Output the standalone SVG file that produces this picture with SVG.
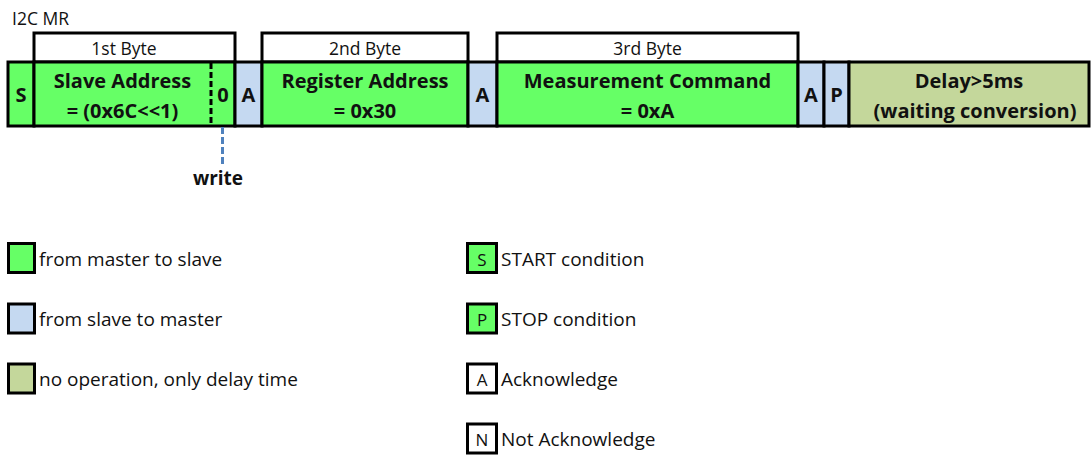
<svg xmlns="http://www.w3.org/2000/svg" width="1092" height="455" viewBox="0 0 1092 455">
<style>
text{font-family:"Open Sans",Lato,"Liberation Sans",sans-serif;fill:#111}
.box{stroke:#000;stroke-width:3}
.g{fill:#66ff66}.b{fill:#c5d9f1}.o{fill:#c4d79b}.w{fill:#fff}
.hb{font-size:17.5px;text-anchor:middle}
.bd{font-size:20px;font-weight:bold;text-anchor:middle}
.lg{font-size:19px}
.lc{font-size:17px;text-anchor:middle}
</style>
<rect width="1092" height="455" fill="#fff"/>
<text x="12" y="25" style="font-size:17.5px">I2C MR</text>
<g id="headers">
<rect class="box w" x="34" y="33" width="201" height="29"/>
<text class="hb" x="124" y="55">1st Byte</text>
<rect class="box w" x="262" y="33" width="206" height="29"/>
<text class="hb" x="365" y="55">2nd Byte</text>
<rect class="box w" x="497" y="33" width="301" height="29"/>
<text class="hb" x="647.5" y="55">3rd Byte</text>
</g>
<g id="node-S"><rect class="box g" x="8" y="62" width="26" height="64"/><text class="bd" x="21" y="102">S</text></g>
<g id="node-slave"><rect class="box g" x="34" y="62" width="201" height="64"/>
<text class="bd" x="122.5" y="88">Slave Address</text><text class="bd" x="122.5" y="118">= (0x6C&lt;&lt;1)</text>
<line x1="211" y1="63" x2="211" y2="125" stroke="#000" stroke-width="3" stroke-dasharray="6,3" fill="none"/>
<text class="bd" x="223" y="102">0</text></g>
<g id="node-A1"><rect class="box b" x="235" y="62" width="27" height="64"/><text class="bd" x="248.5" y="102">A</text></g>
<g id="node-reg"><rect class="box g" x="262" y="62" width="206" height="64"/>
<text class="bd" x="365" y="88">Register Address</text><text class="bd" x="365" y="118">= 0x30</text></g>
<g id="node-A2"><rect class="box b" x="468" y="62" width="29" height="64"/><text class="bd" x="482.5" y="102">A</text></g>
<g id="node-cmd"><rect class="box g" x="497" y="62" width="301" height="64"/>
<text class="bd" x="647.5" y="88">Measurement Command</text><text class="bd" x="647.5" y="118">= 0xA</text></g>
<g id="node-A3"><rect class="box b" x="798" y="62" width="26" height="64"/><text class="bd" x="811" y="102">A</text></g>
<g id="node-P"><rect class="box b" x="824" y="62" width="25" height="64"/><text class="bd" x="836.5" y="102">P</text></g>
<g id="node-delay"><rect class="box o" x="849" y="62" width="240" height="64"/>
<text class="bd" x="969" y="88">Delay&gt;5ms</text><text class="bd" x="975" y="118">(waiting conversion)</text></g>
<g id="connectors">
<line x1="222.5" y1="127" x2="222.5" y2="164" stroke="#4f81bd" stroke-width="3" stroke-dasharray="7,3"/>
</g>
<text x="218" y="185" style="font-size:19px;font-weight:bold;text-anchor:middle">write</text>
<g id="legend">
<rect class="box g" x="8.5" y="243.5" width="26" height="29"/><text class="lg" x="39" y="266">from master to slave</text>
<rect class="box b" x="8.5" y="304" width="26" height="29"/><text class="lg" x="39" y="326">from slave to master</text>
<rect class="box o" x="8.5" y="364" width="26" height="29"/><text class="lg" x="39" y="386">no operation, only delay time</text>
<rect class="box g" x="467.5" y="243.5" width="29" height="29"/><text class="lc" x="482" y="266">S</text><text class="lg" x="501" y="266">START condition</text>
<rect class="box g" x="467.5" y="304" width="29" height="29"/><text class="lc" x="482" y="326">P</text><text class="lg" x="501" y="326">STOP condition</text>
<rect class="box w" x="467.5" y="364" width="29" height="29"/><text class="lc" x="482" y="386">A</text><text class="lg" x="501" y="386">Acknowledge</text>
<rect class="box w" x="467.5" y="424" width="29" height="29"/><text class="lc" x="482" y="446">N</text><text class="lg" x="501" y="446">Not Acknowledge</text>
</g>
</svg>
